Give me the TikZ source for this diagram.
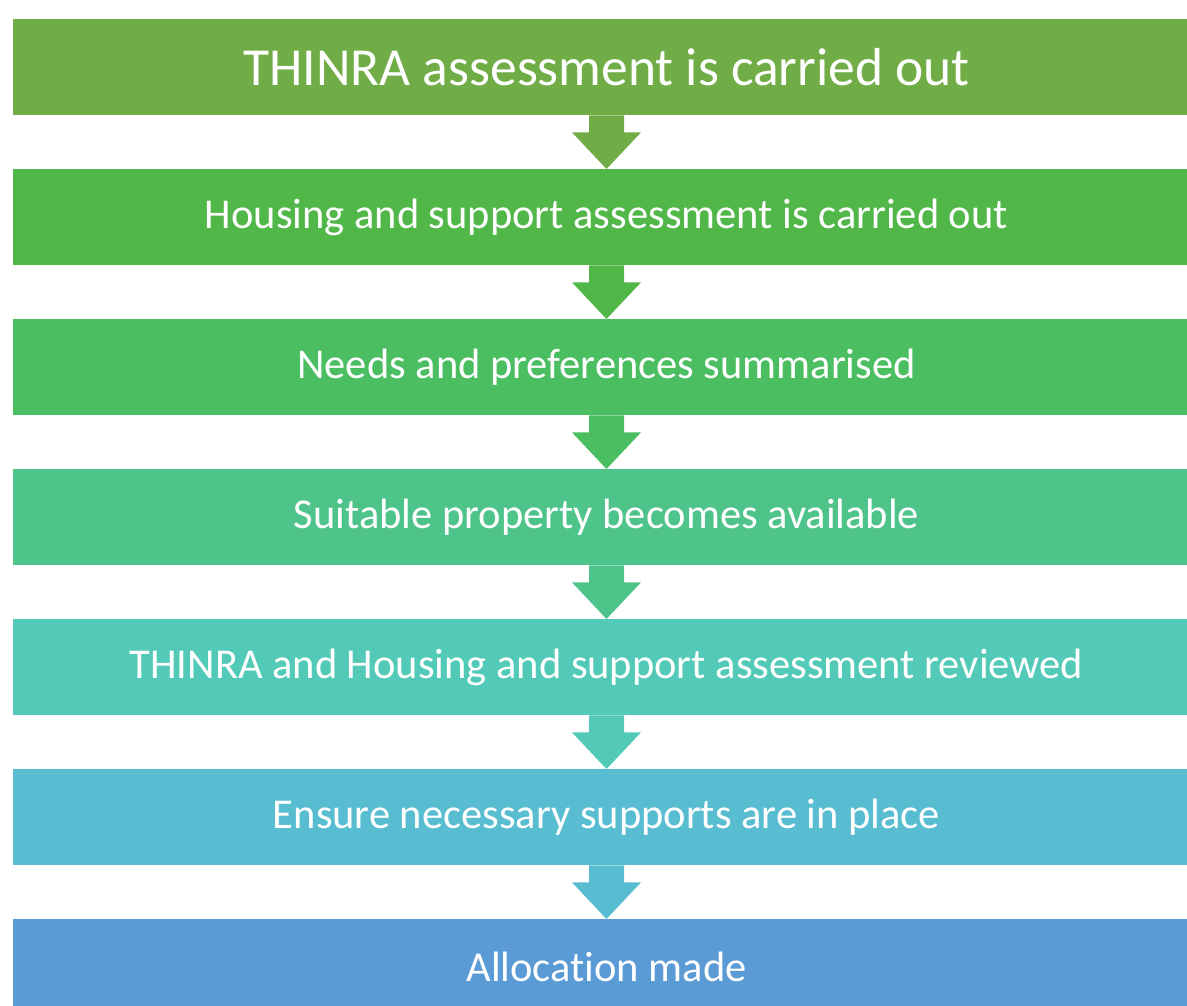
\documentclass[tikz,border=0pt]{standalone}
\usepackage{fontspec}
\setmainfont[Ligatures=NoCommon]{Carlito}
\usetikzlibrary{calc}
\definecolor{cA}{RGB}{112,173,71}
\definecolor{cB}{RGB}{80,183,72}
\definecolor{cC}{RGB}{74,190,96}
\definecolor{cD}{RGB}{79,196,138}
\definecolor{cE}{RGB}{82,202,183}
\definecolor{cF}{RGB}{88,189,208}
\definecolor{cG}{RGB}{91,155,213}
\newcommand\blockarrow[3]{%
  \fill[#3] ($(#1.south)+(-17.5,0)$) -- ($(#1.south)+(17.5,0)$) -- ($(#1.south)+(17.5,17)$) -- ($(#1.south)+(34.5,17)$) -- (#2.north) -- ($(#1.south)+(-34.5,17)$) -- ($(#1.south)+(-17.5,17)$) -- cycle;}
\begin{document}
\begin{tikzpicture}[x=1pt,y=-1pt,
  stepbox/.style={minimum width=1187pt, minimum height=96pt, inner sep=0pt, text=white,
    font=\fontsize{42.5}{48}\selectfont, anchor=north}]
\useasboundingbox (0,0) rectangle (1187,1006);
\node[stepbox, fill=cA, font=\fontsize{53.5}{60}\selectfont] (b1) at (606.5,19) {THINRA assessment is carried out};
\node[stepbox, fill=cB] (b2) at (606.5,169) {Housing and support assessment is carried out};
\node[stepbox, fill=cC] (b3) at (606.5,319) {Needs and preferences summarised};
\node[stepbox, fill=cD] (b4) at (606.5,469) {Suitable property becomes available};
\node[stepbox, fill=cE] (b5) at (606.5,619) {THINRA and Housing and support assessment reviewed};
\node[stepbox, fill=cF] (b6) at (606.5,769) {Ensure necessary supports are in place};
\node[stepbox, fill=cG] (b7) at (606.5,919) {Allocation made};
\blockarrow{b1}{b2}{cA}
\blockarrow{b2}{b3}{cB}
\blockarrow{b3}{b4}{cC}
\blockarrow{b4}{b5}{cD}
\blockarrow{b5}{b6}{cE}
\blockarrow{b6}{b7}{cF}
\end{tikzpicture}
\end{document}
